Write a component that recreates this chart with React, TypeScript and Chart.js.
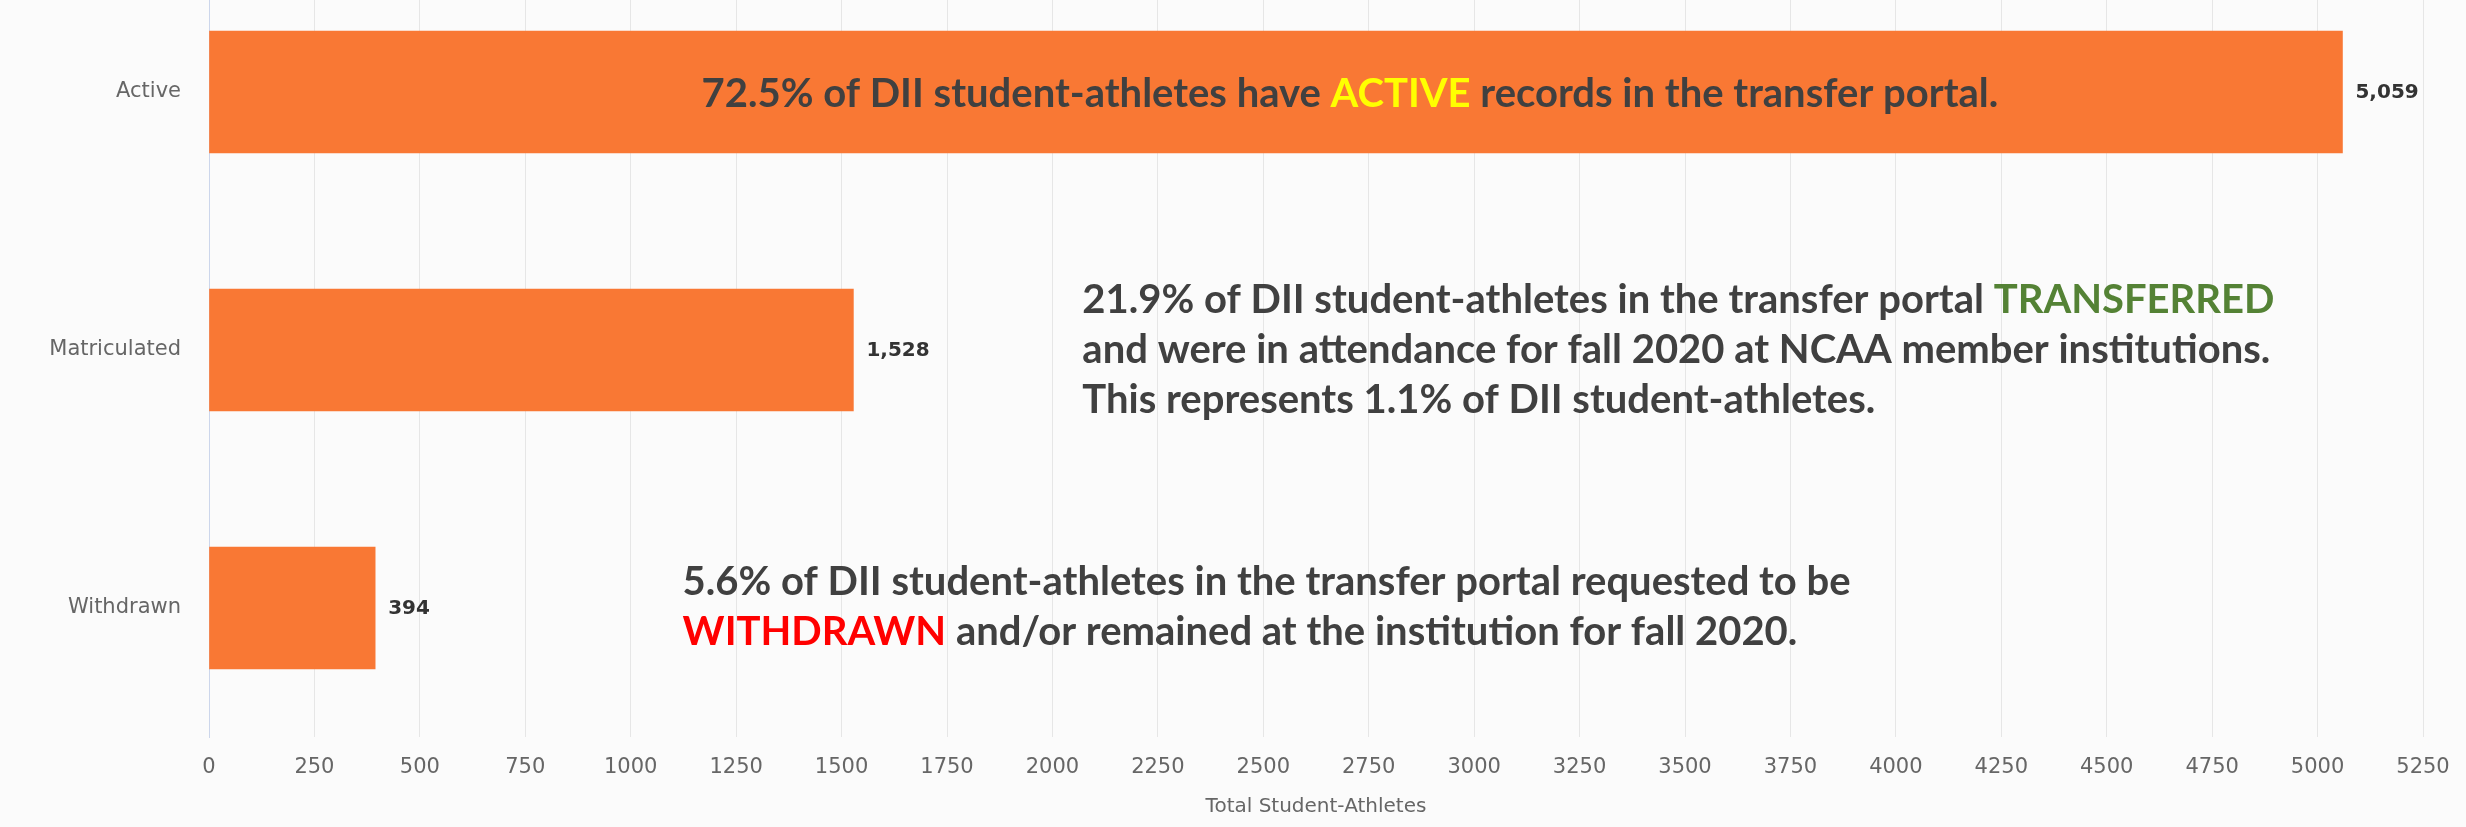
import React, { useEffect, useRef } from "react";
import { Chart, registerables } from "chart.js";

Chart.register(...registerables);

// ---------- data ----------
const categories = ["Active", "Matriculated", "Withdrawn"];
const totals = [5059, 1528, 394];
const axisMax = 5250;
const axisStep = 250;
const axisTitle = "Total Student-Athletes";

const DARK = "#404040";
const YELLOW = "#ffff00";
const GREEN = "#548235";
const RED = "#ff0000";

type Seg = { text: string; color: string };

const activeNote: Seg[][] = [
  [
    { text: "72.5% of DII student-athletes have ", color: DARK },
    { text: "ACTIVE", color: YELLOW },
    { text: " records in the transfer portal.", color: DARK },
  ],
];
const matriculatedNote: Seg[][] = [
  [
    { text: "21.9% of DII student-athletes in the transfer portal ", color: DARK },
    { text: "TRANSFERRED", color: GREEN },
  ],
  [{ text: "and were in attendance for fall 2020 at NCAA member institutions.", color: DARK }],
  [{ text: "This represents 1.1% of DII student-athletes.", color: DARK }],
];
const withdrawnNote: Seg[][] = [
  [{ text: "5.6% of DII student-athletes in the transfer portal requested to be", color: DARK }],
  [
    { text: "WITHDRAWN", color: RED },
    { text: " and/or remained at the institution for fall 2020.", color: DARK },
  ],
];
const notes = [activeNote, matriculatedNote, withdrawnNote];
// x-axis value where each note starts (left edge)
const noteStartValues = [1168, 2071, 1123];
const noteYShift = [2, 0, -1];

// ---------- style ----------
const BAR_COLOR = "#f97834";
const NOTE_FONT = "bold 40px Lato, 'Open Sans', sans-serif";
const NOTE_LINE = 50;
const AXIS_FONT_FAMILY = "'DejaVu Sans', sans-serif";

const valueLabelPlugin = {
  id: "valueLabels",
  afterDatasetsDraw(chart: any) {
    const ctx = chart.ctx;
    const meta = chart.getDatasetMeta(0);
    ctx.save();
    ctx.font = `bold 20px ${AXIS_FONT_FAMILY}`;
    ctx.fillStyle = "#333333";
    ctx.textBaseline = "middle";
    ctx.textAlign = "left";
    meta.data.forEach((bar: any, i: number) => {
      const v = chart.data.datasets[0].data[i] as number;
      ctx.fillText(v.toLocaleString("en-US"), bar.x + 13, bar.y + 1);
    });
    ctx.restore();
  },
};

const notesPlugin = {
  id: "notes",
  afterDatasetsDraw(chart: any) {
    const ctx = chart.ctx;
    const xs = chart.scales.x;
    const ys = chart.scales.y;
    ctx.save();
    ctx.font = NOTE_FONT;
    ctx.textBaseline = "middle";
    ctx.textAlign = "left";
    notes.forEach((lines, row) => {
      const cy = ys.getPixelForValue(row) + noteYShift[row];
      const x0 = xs.getPixelForValue(noteStartValues[row]);
      const top = cy - ((lines.length - 1) * NOTE_LINE) / 2;
      lines.forEach((segs, li) => {
        let x = x0;
        const y = top + li * NOTE_LINE;
        segs.forEach((s) => {
          ctx.fillStyle = s.color;
          ctx.fillText(s.text, x, y);
          x += ctx.measureText(s.text).width;
        });
      });
    });
    ctx.restore();
  },
};

export default function App() {
  const canvasRef = useRef<HTMLCanvasElement | null>(null);

  useEffect(() => {
    let chart: Chart | null = null;
    let cancelled = false;
    const make = () => {
      if (cancelled || !canvasRef.current) return;
      chart = new Chart(canvasRef.current, {
        type: "bar",
        data: {
          labels: categories,
          datasets: [
            {
              data: totals,
              backgroundColor: BAR_COLOR,
              borderWidth: 0,
              barThickness: 122,
            },
          ],
        },
        options: {
          indexAxis: "y",
          animation: false,
          responsive: false,
          maintainAspectRatio: false,
          layout: { padding: { top: 0, right: 43, bottom: 0, left: 0 } },
          plugins: {
            legend: { display: false },
            tooltip: { enabled: false },
          },
          scales: {
            x: {
              type: "linear",
              min: 0,
              max: axisMax,
              ticks: {
                stepSize: axisStep,
                padding: 18,
                color: "#666666",
                font: { family: AXIS_FONT_FAMILY, size: 21 },
                callback: (v: any) => String(v),
              },
              grid: { color: "#e6e6e6", lineWidth: 1, drawTicks: false },
              border: { display: false },
              title: {
                display: true,
                text: axisTitle,
                color: "#666666",
                font: { family: AXIS_FONT_FAMILY, size: 20 },
                padding: { top: 0, bottom: 8 },
              },
              afterFit: (s: any) => {
                s.height = 90;
                s.paddingLeft = 0;
                s.paddingRight = 0;
              },
            },
            y: {
              type: "category",
              ticks: {
                padding: 28,
                color: "#666666",
                font: { family: AXIS_FONT_FAMILY, size: 21 },
              },
              grid: { display: false, drawTicks: false },
              border: { display: true, color: "#ccd6eb", width: 1 },
              afterFit: (s: any) => {
                s.width = 209;
                s.paddingTop = 0;
                s.paddingBottom = 0;
              },
            },
          },
        },
        plugins: [valueLabelPlugin, notesPlugin],
      });
    };
    const fonts = (document as any).fonts;
    if (fonts && fonts.load) {
      Promise.all([
        fonts.load("bold 40px Lato"),
        fonts.load("21px 'DejaVu Sans'"),
        fonts.load("bold 20px 'DejaVu Sans'"),
      ])
        .catch(() => null)
        .then(make);
    } else {
      make();
    }
    return () => {
      cancelled = true;
      if (chart) chart.destroy();
    };
  }, []);

  return (
    <div
      style={{
        position: "fixed",
        left: 0,
        top: 0,
        width: 2466,
        height: 827,
        overflow: "hidden",
        background: "#fbfbfb",
      }}
    >
      <div style={{ position: "absolute", left: 0, top: -37, width: 2466, height: 864 }}>
        <canvas ref={canvasRef} width={2466} height={864} style={{ width: 2466, height: 864 }} />
      </div>
    </div>
  );
}
